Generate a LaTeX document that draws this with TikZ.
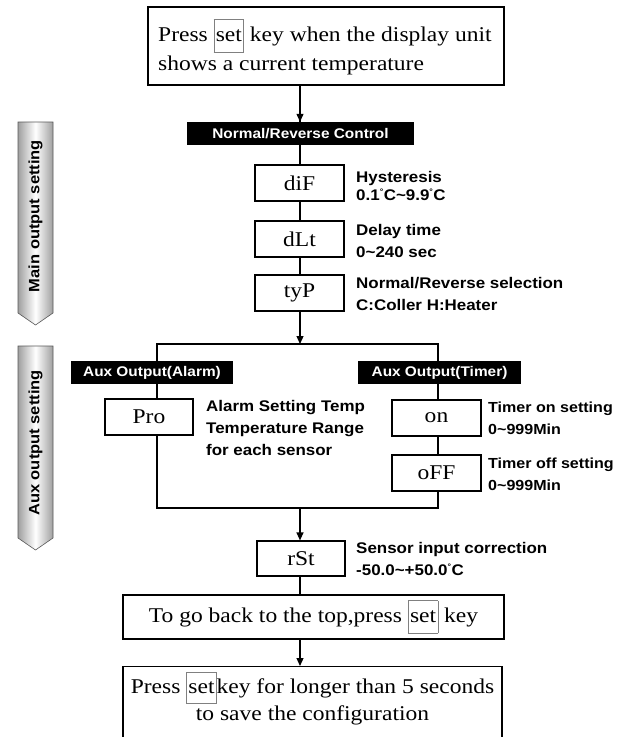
\documentclass[tikz,border=0pt]{standalone}
\usepackage{fontspec}
\setmainfont[FakeStretch=1.12]{Liberation Serif}
\newfontfamily\lbl[FakeStretch=1.1]{Liberation Sans}
\usetikzlibrary{arrows.meta,calc}
\newcommand\keybox[1]{{\setlength\fboxsep{1.5pt}\setlength\fboxrule{0.6pt}\fcolorbox{gray}{white}{\strut #1}}}
\begin{document}
\begin{tikzpicture}[x=1pt,y=-1pt,
  box/.style={draw,fill=white,line width=1.2pt,minimum width=89pt,minimum height=36pt,inner sep=0pt,font=\fontsize{21}{21}\selectfont},
  bar/.style={fill=black,text=white,font=\lbl\bfseries\fontsize{14}{14}\selectfont,inner sep=0pt,minimum height=23pt},
  note/.style={anchor=base west,align=left,inner sep=0pt,font=\lbl\bfseries\fontsize{15.4}{22}\selectfont},
  ln/.style={line width=1.2pt},
  arr/.style={ln,-{Triangle[length=8pt,width=7pt]}},
  big/.style={draw,fill=white,line width=1.2pt,inner sep=0pt,font=\fontsize{21}{29}\selectfont},
  side/.style={left color=gray!75,right color=gray!75,middle color=white,draw=gray!70!black,line width=0.6pt},
  sidetext/.style={rotate=90,font=\lbl\bfseries\fontsize{15}{15}\selectfont,inner sep=0pt}
]
\useasboundingbox (0,0) rectangle (619,737);
\clip (0,0) rectangle (619,737);

% side arrows
\shade[side] (18,122) -- (53,122) -- (53,313) -- (35.5,325) -- (18,313) -- cycle;
\node[sidetext] (mainlbl) at (35.5,216) {Main output setting};
\shade[side] (18,346) -- (53,346) -- (53,538) -- (35.5,550) -- (18,538) -- cycle;
\node[sidetext] (auxlbl) at (35.5,443) {Aux output setting};

% top box
\node[big,minimum width=356pt,minimum height=78pt] (top) at (326,46) {};
\node[inner sep=0pt,align=left,anchor=west,font=\fontsize{21}{29}\selectfont] (toptext) at (158,47)
  {Press \keybox{set} key when the display unit\\shows a current temperature};

% main chain
\coordinate (c1) at (300,85);
\coordinate (branchTop) at (300,344);
\coordinate (bL) at (157,344);
\coordinate (bR) at (438,344);
\coordinate (eL) at (157,508);
\coordinate (eR) at (438,508);
\coordinate (eM) at (300,508);

\draw[ln] (c1) -- (300,300);
\draw[arr] (300,300) -- (branchTop);
\draw[ln] (eL) -- (bL) -- (bR) -- (eR) -- cycle;

\node[bar,minimum width=227pt] (nrc) at (300.5,133.5) {Normal/Reverse Control};
\draw[arr] (c1) -- (nrc.north -| c1);
\node[box] (dif) at (299.5,183) {diF};
\node[box] (dlt) at (299.5,239) {dLt};
\node[box] (typ) at (299.5,293) {tyP};

\node[note] (n1) at (356,182) {Hysteresis};
\node[note] (n1b) at (356,200) {0.1\textsuperscript{\fontsize{8}{8}\selectfont\textdegree}C\textasciitilde 9.9\textsuperscript{\fontsize{8}{8}\selectfont\textdegree}C};
\node[note] (n2) at (356,257) {Delay time\\0\textasciitilde 240 sec};
\node[note] (n3) at (356,310) {Normal/Reverse selection\\C:Coller H:Heater};

% aux branches
\node[bar,minimum width=162pt] (alarm) at (152,372.5) {Aux Output(Alarm)};
\node[bar,minimum width=163pt] (timer) at (439.5,372.5) {Aux Output(Timer)};
\node[box,minimum width=88pt] (pro) at (149,417) {Pro};
\node[note] (n4) at (206,455) {Alarm Setting Temp\\Temperature Range\\for each sensor};
\node[box] (on) at (436.5,418) {on};
\node[box] (off) at (436.5,473) {oFF};
\node[note,font=\lbl\bfseries\fontsize{14.6}{22}\selectfont] (n5) at (488,434) {Timer on setting\\0\textasciitilde 999Min};
\node[note,font=\lbl\bfseries\fontsize{14.6}{22}\selectfont] (n6) at (488,490) {Timer off setting\\0\textasciitilde 999Min};

% rSt
\node[box,minimum width=88pt,minimum height=35pt] (rst) at (301,558.5) {rSt};
\draw[arr] (eM) -- (rst.north -| eM);
\node[note] (n7) at (356,575) {Sensor input correction\\-50.0\textasciitilde +50.0\textsuperscript{\fontsize{8}{8}\selectfont\textdegree}C};

% back box
\node[big,minimum width=381pt,minimum height=44pt] (back) at (313.5,617)
  {To go back to the top,press \keybox{set} key};
\draw[ln] (rst.south -| eM) -- (back.north -| eM);

% save box
\node[big,minimum width=379pt,minimum height=100pt,anchor=north] (save) at (312.5,666) {};
\draw[arr] (back.south -| eM) -- (save.north -| eM);
\node[inner sep=0pt,align=center,font=\fontsize{21}{27}\selectfont,anchor=north] (savetext) at (312.5,672)
  {Press \keybox{set}key for longer than 5 seconds\\to save the configuration};
\end{tikzpicture}
\end{document}
